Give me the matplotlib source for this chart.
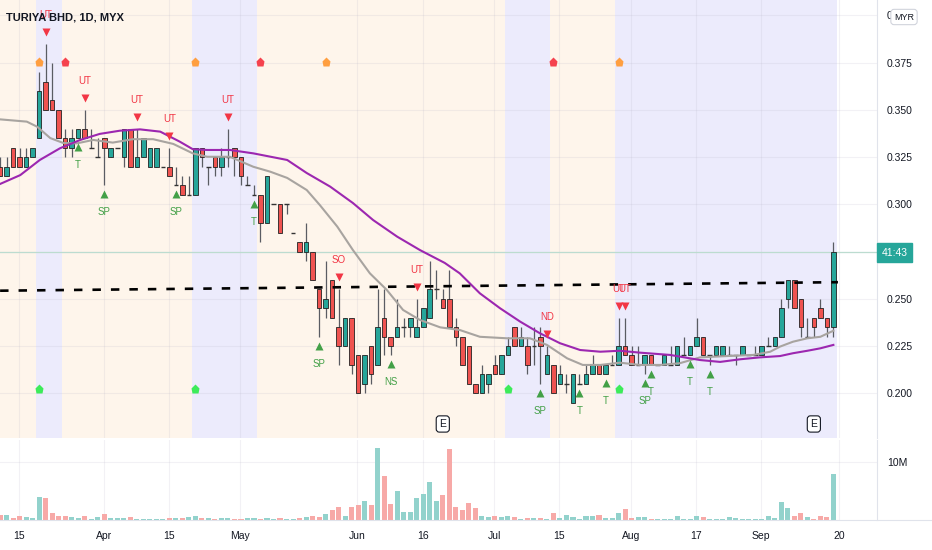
import numpy as np
import matplotlib.pyplot as plt
from matplotlib.patches import Rectangle
from matplotlib.transforms import offset_copy, blended_transform_factory

plt.rcParams['font.family'] = ['Liberation Sans', 'DejaVu Sans']

# daily candles (index 0 = first visible bar, last = Sep 20)
opens = [.320, .315, .330, .325, .320, .325, .335, .365, .355, .350,
         .335, .330, .335, .340, .330, .325, .335, .325, .330, .325,
         .340, .320, .325, .320, .320, .320, .320, .310, .310, .305,
         .305, .330, .320, .325, .320, .325, .330, .325, .310, .305,
         .305, .290, .300, .300, .300, .285, .280, .275, .275, .255,
         .245, .260, .235, .225, .240, .220, .205, .225, .215, .240,
         .230, .230, .235, .235, .230, .235, .240, .255, .250, .250,
         .235, .230, .225, .205, .200, .205, .215, .210, .220, .235,
         .225, .225, .225, .230, .210, .215, .205, .205, .195, .205,
         .205, .210, .215, .210, .215, .215, .225, .220, .215, .215,
         .220, .215, .215, .215, .215, .220, .220, .225, .230, .220,
         .220, .220, .220, .220, .220, .220, .220, .220, .225, .225,
         .230, .250, .260, .250, .230, .240, .245, .240, .235]
highs = [.325, .325, .330, .330, .330, .330, .370, .385, .375, .350,
         .340, .340, .340, .350, .340, .335, .335, .330, .330, .340,
         .340, .340, .335, .330, .330, .320, .330, .320, .315, .315,
         .330, .330, .320, .325, .330, .340, .330, .325, .315, .310,
         .305, .315, .300, .300, .300, .285, .280, .290, .275, .255,
         .270, .260, .255, .240, .240, .220, .220, .225, .255, .255,
         .230, .250, .240, .240, .250, .245, .270, .265, .255, .265,
         .240, .230, .225, .205, .215, .210, .220, .220, .230, .235,
         .235, .230, .235, .235, .225, .215, .215, .210, .210, .210,
         .215, .220, .215, .215, .220, .240, .240, .225, .225, .220,
         .220, .215, .220, .225, .225, .230, .225, .240, .230, .220,
         .225, .225, .225, .220, .225, .220, .225, .225, .230, .230,
         .250, .260, .260, .250, .240, .240, .250, .240, .280]
lows = [.315, .315, .320, .320, .320, .325, .335, .350, .350, .335,
        .325, .325, .335, .335, .330, .325, .310, .325, .330, .320,
        .320, .320, .325, .320, .320, .320, .315, .310, .305, .305,
        .305, .320, .310, .315, .315, .320, .315, .310, .310, .305,
        .280, .290, .300, .285, .295, .285, .275, .270, .260, .230,
        .240, .240, .215, .225, .210, .200, .200, .205, .215, .220,
        .220, .230, .230, .230, .230, .235, .240, .250, .245, .235,
        .225, .215, .205, .200, .200, .200, .210, .210, .220, .225,
        .225, .210, .215, .205, .210, .200, .205, .200, .195, .205,
        .205, .210, .210, .210, .215, .215, .220, .215, .215, .210,
        .215, .215, .215, .215, .215, .220, .220, .225, .220, .215,
        .220, .220, .220, .215, .220, .220, .220, .220, .225, .225,
        .230, .245, .245, .230, .230, .230, .240, .230, .230]
closes = [.315, .320, .320, .320, .325, .330, .360, .350, .350, .335,
          .330, .335, .340, .335, .330, .325, .330, .330, .330, .340,
          .320, .325, .335, .330, .330, .320, .315, .310, .305, .305,
          .330, .325, .320, .320, .325, .325, .325, .315, .310, .305,
          .290, .315, .300, .285, .300, .285, .275, .280, .260, .245,
          .250, .240, .225, .240, .215, .200, .220, .210, .235, .230,
          .225, .235, .235, .240, .235, .245, .255, .255, .245, .235,
          .230, .215, .205, .200, .210, .210, .210, .220, .225, .225,
          .230, .215, .225, .225, .220, .200, .210, .205, .210, .205,
          .210, .215, .210, .215, .215, .225, .220, .215, .215, .220,
          .215, .215, .220, .215, .225, .220, .225, .230, .220, .220,
          .225, .225, .220, .220, .225, .220, .220, .225, .225, .230,
          .245, .260, .245, .235, .230, .235, .240, .235, .275]
# volume in millions
volumes = [0.86, 0.86, 0.40, 0.75, 0.52, 0.40, 3.97, 3.74, 1.26, 0.75,
           0.75, 0.52, 0.29, 0.63, 0.17, 0.52, 1.03, 0.29, 0.29, 0.29,
           0.46, 0.17, 0.20, 0.20, 0.20, 0.20, 0.35, 0.35, 0.35, 0.57,
           0.63, 0.35, 0.29, 0.20, 0.29, 0.29, 0.20, 0.23, 0.29, 0.29,
           0.23, 0.29, 0.23, 0.29, 0.20, 0.20, 0.40, 0.52, 0.75, 0.52,
           1.00, 1.67, 2.24, 0.63, 2.24, 2.60, 3.28, 2.60, 12.4, 7.50,
           2.82, 5.00, 1.40, 1.40, 3.80, 4.50, 6.60, 3.30, 4.30, 12.2,
           2.24, 1.67, 3.00, 2.07, 0.75, 0.46, 0.63, 0.46, 0.63, 0.52,
           0.23, 0.35, 0.35, 0.35, 0.23, 1.26, 0.35, 0.86, 0.52, 0.23,
           0.63, 0.69, 0.86, 0.35, 0.35, 1.15, 1.90, 0.35, 0.52, 0.52,
           0.23, 0.23, 0.23, 0.23, 0.75, 0.23, 0.23, 0.63, 0.46, 0.23,
           0.23, 0.23, 0.57, 0.35, 0.23, 0.23, 0.23, 0.23, 0.75, 0.35,
           3.05, 2.13, 0.63, 1.15, 0.57, 0.23, 0.75, 0.46, 7.87]

# moving averages (bar index, price)
gray_x = [0, 4.1, 5.7, 7.7, 9.7, 11.8, 14.3, 17.3, 20.4, 23.5, 26.6, 29.6, 31.8,
          35.3, 38.9, 41.5, 44.1, 47.1, 49.1, 51.8, 54.2, 56.8, 59.4, 61.9, 64.5,
          67.6, 70.6, 73.7, 77.9, 81.4, 84.0, 87.1, 89.5, 92.2, 95.2, 98.3, 101.4,
          104.4, 107.5, 111.7, 115.7, 118.3, 119.8, 121.8, 124.0, 126.0, 128.0]
gray_y = [.3450, .3438, .3411, .3351, .3325, .3323, .3341, .3327, .3345, .3345,
          .3320, .3270, .3252, .3252, .3199, .3173, .3140, .3076, .2997, .2882,
          .2758, .2635, .2547, .2441, .2388, .2349, .2335, .2299, .2291, .2291,
          .2256, .2185, .2150, .2150, .2162, .2150, .2150, .2159, .2190, .2197,
          .2203, .2220, .2247, .2273, .2291, .2299, .2331]
purple_x = [0, 3.1, 6.1, 9.2, 12.3, 15.3, 18.4, 21.5, 24.6, 27.6, 29.6, 31.8, 35.3,
            38.9, 44.1, 47.1, 50.7, 54.2, 57.3, 61.0, 64.5, 68.3, 70.6, 73.7, 76.8,
            79.9, 82.9, 86.0, 89.1, 92.2, 95.2, 98.3, 102.9, 107.5, 110.6, 113.7,
            116.7, 119.8, 121.8, 124.0, 126.0, 128.0]
purple_y = [.3108, .3155, .3235, .3297, .3341, .3373, .3390, .3397, .3385, .3332,
            .3292, .3288, .3288, .3270, .3235, .3166, .3094, .3007, .2917, .2829,
            .2758, .2690, .2635, .2529, .2450, .2379, .2318, .2265, .2229, .2220,
            .2225, .2215, .2203, .2176, .2166, .2180, .2190, .2197, .2212, .2225,
            .2238, .2256]

# dashed trend line end points
trend_x = [0, 128.7]
trend_y = [0.2543, 0.2588]

# background regimes (first bar, last bar)
lavender_bands = [(6, 9), (30, 39), (78, 84), (95, 128)]
last_bar = 128

# signal labels
top_bars = [7, 13, 21, 26, 35, 52, 64, 84, 95, 96]
top_text = ['UT', 'UT', 'UT', 'UT', 'UT', 'SO', 'UT', 'ND', 'UT', 'UT']
bot_bars = [12, 16, 27, 39, 49, 60, 83, 89, 93, 99, 100, 106, 109]
bot_text = ['T', 'SP', 'SP', 'T', 'SP', 'NS', 'SP', 'T', 'T', 'SP', 'T', 'T', 'T']

orange_top = [6, 30, 50, 95]
red_top = [10, 40, 85]
green_bottom = [6, 30, 78, 95]
top_level = 0.3755
bottom_level = 0.2023

earnings_bars = [68, 125]

tick_bars = [2, 15, 25, 36, 54, 64, 75, 85, 96, 106, 116, 128]
tick_labels = ['15', 'Apr', '15', 'May', 'Jun', '16', 'Jul', '15', 'Aug', '17', 'Sep', '20']
price_ticks = [0.200, 0.225, 0.250, 0.275, 0.300, 0.325, 0.350, 0.375, 0.400]

O = np.array(opens); Hh = np.array(highs); L = np.array(lows); C = np.array(closes)
V = np.array(volumes) * 1e6
x = np.arange(len(C))
up = C >= O

W, H = 932, 550
fig = plt.figure(figsize=(W / 100, H / 100), dpi=100)
ax = fig.add_axes([0, (H - 438) / H, 877 / W, 438 / H])
axv = fig.add_axes([0, (H - 520) / H, 877 / W, 80 / H], sharex=ax)

xmin, xmax = -0.015, 134.7
ax.set_xlim(xmin, xmax)
ax.set_ylim(0.17632, 0.40819)
axv.set_ylim(0, 13.79e6)

# background bands
ax.axvspan(-0.5, last_bar + 0.5, color='#FEF5EB', lw=0, zorder=0)
for a, b in lavender_bands:
    ax.axvspan(a - 0.5, b + 0.5, color='#ECEBFC', lw=0, zorder=0)

# grid
for p in price_ticks:
    ax.axhline(p, color='#B8B4C8', alpha=0.18, lw=0.8, zorder=0.5)
for t in tick_bars:
    ax.axvline(t + 0.9, color='#B8B4C8', alpha=0.18, lw=0.8, zorder=0.5)
    axv.axvline(t + 0.9, color='#B8B4C8', alpha=0.18, lw=0.8, zorder=0.5)
axv.axhline(10e6, color='#B8B4C8', alpha=0.18, lw=0.8, zorder=0.5)

# last price line
ax.axhline(C[-1], color='#BCDCD0', lw=0.9, zorder=1)

# candles
ax.vlines(x, L, Hh, color='#5A5C63', lw=0.9, zorder=3)
body = np.abs(C - O)
has_body = body > 1e-9
cols = np.where(up, '#26A69A', '#EF5350')
ax.bar(x[has_body], body[has_body], bottom=np.minimum(O, C)[has_body], width=0.7,
       color=cols[has_body], edgecolor='#222222', linewidth=0.6, zorder=4)
d = ~has_body
ax.hlines(C[d], x[d] - 0.35, x[d] + 0.35, color='#333333', lw=1.0, zorder=4)

# moving averages
ax.plot(gray_x, gray_y, color='#A8A4A0', lw=1.5, zorder=5)
ax.plot(purple_x, purple_y, color='#9C27B0', lw=1.5, zorder=5)

# trend line
ax.plot(trend_x, trend_y, color='black', lw=1.9, ls=(0, (3.2, 3.8)), zorder=6)

# signal markers
red_c = '#F23645'
green_c = '#43A047'
for b, t in zip(top_bars, top_text):
    ax.plot(b, Hh[b], 'v', color=red_c, ms=5.5, mec='none', zorder=7,
            transform=offset_copy(ax.transData, fig=fig, y=12, units='dots'))
    ax.text(b, Hh[b], t, color=red_c, fontsize=7, ha='center', va='center', zorder=7,
            transform=offset_copy(ax.transData, fig=fig, y=29, units='dots'))
for b, t in zip(bot_bars, bot_text):
    ax.plot(b, L[b], '^', color=green_c, ms=5.5, mec='none', zorder=7,
            transform=offset_copy(ax.transData, fig=fig, y=-9, units='dots'))
    ax.text(b, L[b], t, color=green_c, fontsize=7, ha='center', va='center', zorder=7,
            transform=offset_copy(ax.transData, fig=fig, y=-27, units='dots'))

ax.plot(orange_top, [top_level] * len(orange_top), 'p', color='#FF9F40', ms=6.5, mec='none', zorder=7)
ax.plot(red_top, [top_level] * len(red_top), 'p', color='#F5424E', ms=6.5, mec='none', zorder=7)
ax.plot(green_bottom, [bottom_level] * len(green_bottom), 'p', color='#3DEB5A', ms=6.5, mec='none', zorder=7)

# earnings flags
bt = blended_transform_factory(ax.transData, ax.transAxes)
for b in earnings_bars:
    ax.text(b, 0.032, 'E', transform=bt, ha='center', va='center', fontsize=7.5,
            color='#131722', zorder=8,
            bbox=dict(boxstyle='round,pad=0.3', fc='white', ec='#131722', lw=0.8))

# volume
vcols = np.where(up, '#92D2CC', '#F7A9A7')
axv.bar(x, V, width=0.78, color=vcols, zorder=2)

# axes styling
for a in (ax, axv):
    for s in ('top', 'left', 'bottom'):
        a.spines[s].set_visible(False)
    a.spines['right'].set_color('#E0E3EB')
    a.yaxis.tick_right()
    a.tick_params(axis='y', length=0, pad=7, labelsize=7.5, labelcolor='#131722')
# 0.275 sits under the live-price box, so it carries no label
ax.set_yticks(price_ticks)
ax.set_yticklabels(['' if abs(p - 0.275) < 1e-9 else f'{p:.3f}' for p in price_ticks])
ax.tick_params(axis='x', bottom=False, labelbottom=False)
axv.set_yticks([10e6])
axv.set_yticklabels(['10M'])
axv.set_xticks([t + 0.9 for t in tick_bars])
axv.set_xticklabels(tick_labels)
axv.tick_params(axis='x', length=0, pad=8, labelsize=7.5, labelcolor='#131722')
axv.set_xlim(xmin, xmax)

# pane bottom border
fig.add_artist(plt.Line2D([0, 1], [(H - 520) / H] * 2, color='#E0E3EB', lw=0.8,
                          transform=fig.transFigure))

# title, currency and countdown boxes
fig.text(6 / W, 1 - 17 / H, 'TURIYA BHD, 1D, MYX', fontsize=8, fontweight='bold',
         color='#131722', va='center', ha='left', zorder=12)
fig.text(904 / W, 1 - 17 / H, 'MYR', fontsize=6.5, color='#131722', ha='center', va='center',
         zorder=12, bbox=dict(boxstyle='round,pad=0.35', fc='white', ec='#D1D4DC', lw=0.8))
fig.add_artist(Rectangle((877 / W, 1 - 262 / H), 35 / W, 19 / H, color='#26A69A',
                         transform=fig.transFigure, zorder=10))
fig.text(894.5 / W, 1 - 252.5 / H, '41:43', color='white', fontsize=7.5,
         ha='center', va='center', zorder=11)

fig.savefig('out.png', dpi=100)
